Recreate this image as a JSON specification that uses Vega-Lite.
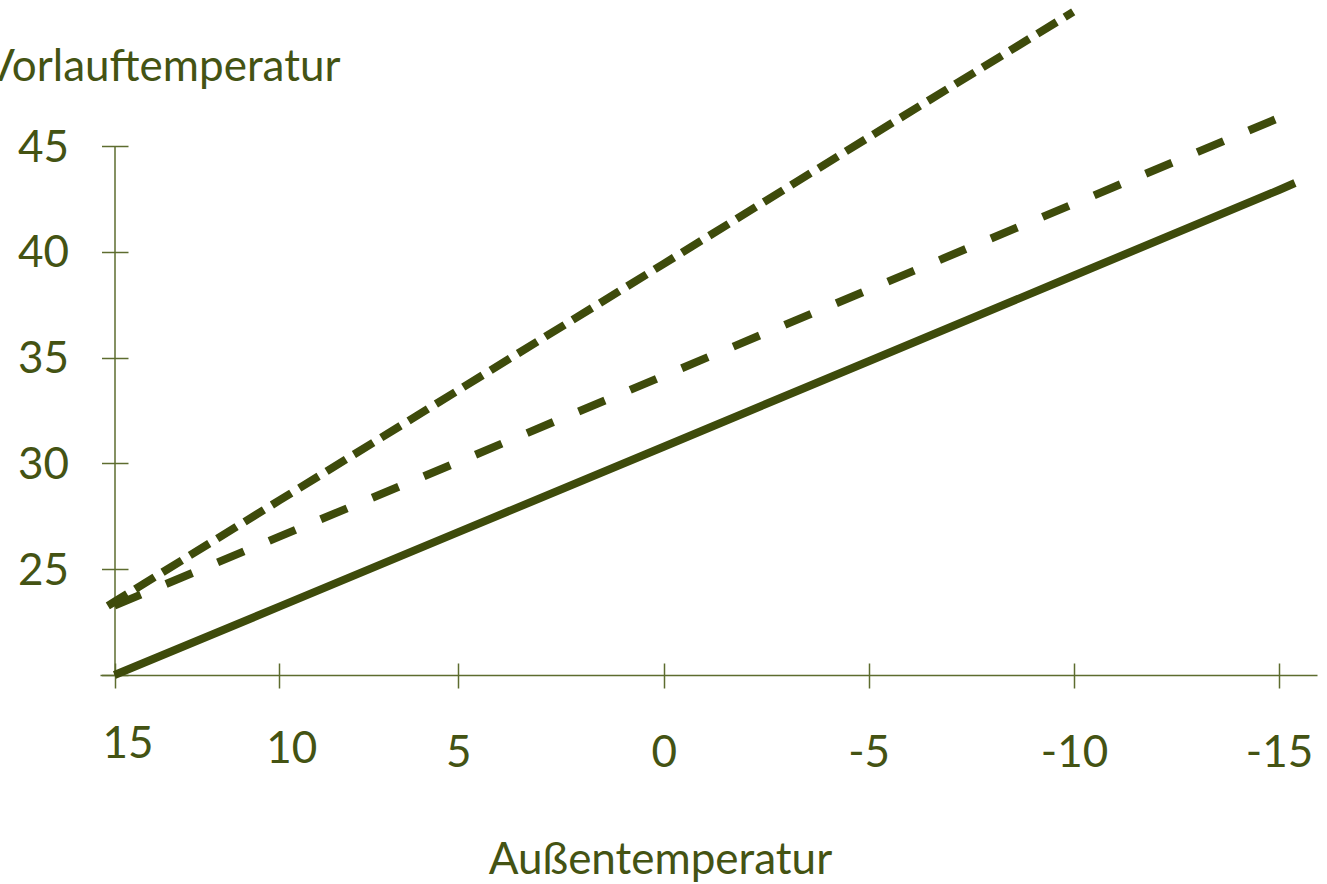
{
  "$schema": "https://vega.github.io/schema/vega-lite/v6.json",
  "width": 1217,
  "height": 529,
  "autosize": {"type": "none"},
  "padding": {"left": 100, "top": 146, "right": 10, "bottom": 209},
  "background": "white",
  "config": {"view": {"stroke": null}, "font": "Lato", "axis": {"grid": false}},
  "datasets": {
    "kurve_a": [
      {"aussen": 15, "vorlauf": 20.0},
      {"aussen": 10, "vorlauf": 23.23},
      {"aussen": 5, "vorlauf": 26.75},
      {"aussen": 0, "vorlauf": 30.79},
      {"aussen": -5, "vorlauf": 34.83},
      {"aussen": -10, "vorlauf": 38.88},
      {"aussen": -15, "vorlauf": 42.92},
      {"aussen": -15.39, "vorlauf": 43.25}
    ],
    "kurve_b": [
      {"aussen": 15, "vorlauf": 23.28},
      {"aussen": 10, "vorlauf": 26.54},
      {"aussen": 5, "vorlauf": 30.07},
      {"aussen": 0, "vorlauf": 34.14},
      {"aussen": -5, "vorlauf": 38.21},
      {"aussen": -10, "vorlauf": 42.27},
      {"aussen": -15, "vorlauf": 46.33}
    ],
    "kurve_c": [
      {"aussen": 15.21, "vorlauf": 23.27},
      {"aussen": 15, "vorlauf": 23.46},
      {"aussen": 10, "vorlauf": 28.25},
      {"aussen": 5, "vorlauf": 33.46},
      {"aussen": 0, "vorlauf": 39.43},
      {"aussen": -5, "vorlauf": 45.41},
      {"aussen": -9.98, "vorlauf": 51.34}
    ]
  },
  "layer": [
    {
      "data": {"name": "kurve_a"},
      "mark": {"type": "line", "color": "#3e4b0b", "strokeWidth": 8, "clip": false},
      "encoding": {
        "x": {
          "field": "aussen", "type": "quantitative",
          "scale": {"domain": [15.456, 15, 10, 5, 0, -5, -10, -15, -15.93], "range": [0, 14.5, 179.3, 358.3, 563.7, 768.7, 974, 1179, 1217], "nice": false, "zero": false},
          "axis": {
            "orient": "bottom",
            "values": [15, 10, 5, 0, -5, -10, -15],
            "labelExpr": "'' + datum.value",
            "domainColor": "#5d6c2f", "domainWidth": 1.5,
            "tickColor": "#5d6c2f", "tickWidth": 1.5, "tickSize": 13,
            "labelFont": "Lato", "labelFontSize": 44, "labelColor": "#445313",
            "labelBaseline": "alphabetic", "labelAlign": "center",
            "labelPadding": {"condition": [{"test": "datum.value == 15", "value": 69}, {"test": "datum.value == 10", "value": 74}], "value": 78},
            "labelOffset": {"condition": [{"test": "datum.value == 15", "value": 13}, {"test": "datum.value == 10", "value": 12}], "value": 0},
            "labelFlush": false, "labelOverlap": false, "labelBound": false,
            "title": "Außentemperatur",
            "titleFont": "Lato", "titleFontSize": 44, "titleFontWeight": "normal", "titleColor": "#445313",
            "titleX": 560, "titleY": 198, "titleAlign": "center", "titleBaseline": "alphabetic", "titleAngle": 0
          }
        },
        "y": {
          "field": "vorlauf", "type": "quantitative",
          "scale": {"domain": [20, 45], "nice": false, "zero": false},
          "axis": {
            "orient": "left",
            "offset": -14.5,
            "values": [20, 25, 30, 35, 40, 45],
            "labelExpr": "datum.value == 20 ? '' : datum.label",
            "domainColor": "#5d6c2f", "domainWidth": 1.5,
            "tickColor": "#5d6c2f", "tickWidth": 1.5, "tickSize": 13,
            "labelFont": "Lato", "labelFontSize": 44, "labelColor": "#445313",
            "labelBaseline": "middle", "labelAlign": "right", "labelPadding": 33, "labelOffset": 2,
            "labelOverlap": false, "labelBound": false, "labelFlush": false,
            "title": "Vorlauftemperatur",
            "titleFont": "Lato", "titleFontSize": 44, "titleFontWeight": "normal", "titleColor": "#445313",
            "titleAngle": 0, "titleAlign": "right", "titleBaseline": "alphabetic",
            "titleX": 225.5, "titleY": -66
          }
        },
        "order": {"value": null}
      }
    },
    {
      "data": {"name": "kurve_b"},
      "mark": {"type": "line", "color": "#3e4b0b", "strokeWidth": 8, "strokeDash": [28.5, 27.4], "clip": false},
      "encoding": {
        "x": {
          "field": "aussen", "type": "quantitative",
          "scale": {"domain": [15.456, 15, 10, 5, 0, -5, -10, -15, -15.93], "range": [0, 14.5, 179.3, 358.3, 563.7, 768.7, 974, 1179, 1217], "nice": false, "zero": false},
          "axis": {
            "orient": "bottom", "offset": -12,
            "values": [15, 10, 5, 0, -5, -10, -15],
            "domain": false, "labels": false, "title": null,
            "tickColor": "#5d6c2f", "tickWidth": 1.5, "tickSize": 12
          }
        },
        "y": {
          "field": "vorlauf", "type": "quantitative",
          "scale": {"domain": [20, 45], "nice": false, "zero": false},
          "axis": {
            "orient": "left", "offset": -28,
            "values": [20, 25, 30, 35, 40, 45],
            "domain": false, "labels": false, "title": null,
            "tickColor": "#5d6c2f", "tickWidth": 1.5, "tickSize": 13.5
          }
        },
        "order": {"value": null}
      }
    },
    {
      "data": {"name": "kurve_c"},
      "mark": {"type": "line", "color": "#3e4b0b", "strokeWidth": 8, "strokeDash": [22.7, 9.4], "clip": false},
      "encoding": {
        "x": {
          "field": "aussen", "type": "quantitative",
          "scale": {"domain": [15.456, 15, 10, 5, 0, -5, -10, -15, -15.93], "range": [0, 14.5, 179.3, 358.3, 563.7, 768.7, 974, 1179, 1217], "nice": false, "zero": false},
          "axis": null
        },
        "y": {
          "field": "vorlauf", "type": "quantitative",
          "scale": {"domain": [20, 45], "nice": false, "zero": false},
          "axis": null
        },
        "order": {"value": null}
      }
    }
  ],
  "resolve": {"axis": {"x": "independent", "y": "independent"}}
}
